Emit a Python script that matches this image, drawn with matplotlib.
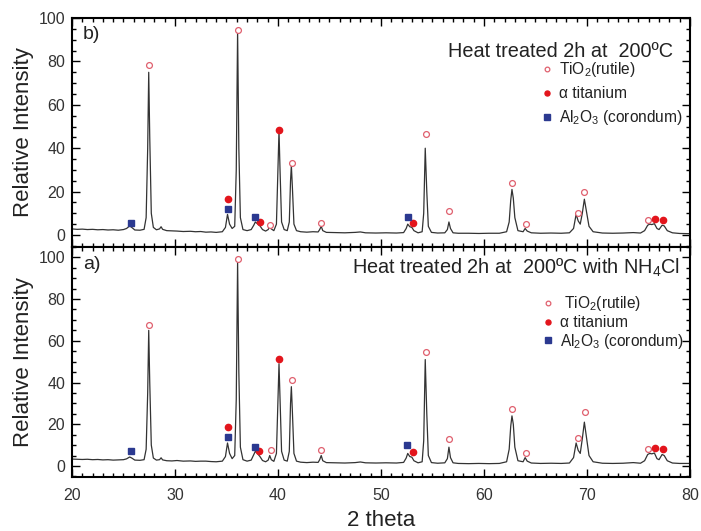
import matplotlib
matplotlib.use("Agg")
import matplotlib.pyplot as plt
from matplotlib.ticker import MultipleLocator

plt.rcParams['font.family'] = ['Liberation Sans', 'DejaVu Sans']
plt.rcParams['mathtext.fontset'] = 'custom'
plt.rcParams['mathtext.rm'] = 'Liberation Sans'
plt.rcParams['mathtext.it'] = 'Liberation Sans:italic'
plt.rcParams['mathtext.default'] = 'rm'

# traced XRD pattern, panel b (no NH4Cl)
b_theta = [20.0, 20.5, 21.0, 21.5, 22.0, 22.5, 23.0, 23.5, 24.0, 24.5, 25.0, 25.3, 25.6, 25.8,
           26.1, 26.6, 27.0, 27.2, 27.35, 27.45, 27.55, 27.7, 27.9, 28.2, 28.5, 28.65, 28.8,
           29.2, 29.7, 30.2, 30.8, 31.5, 32.0, 32.5, 33.0, 33.5, 34.0, 34.6, 34.9, 35.1, 35.3,
           35.55, 35.8, 35.95, 36.08, 36.2, 36.35, 36.6, 37.0, 37.4, 37.65, 37.8, 38.0, 38.25,
           38.5, 38.8, 39.05, 39.2, 39.35, 39.6, 39.85, 40.0, 40.1, 40.2, 40.35, 40.6, 40.9,
           41.1, 41.22, 41.3, 41.4, 41.55, 41.8, 42.2, 42.8, 43.4, 43.9, 44.05, 44.2, 44.35,
           44.7, 45.5, 46.5, 47.5, 48.0, 48.5, 49.5, 50.5, 51.5, 52.2, 52.45, 52.6, 52.8, 53.0,
           53.2, 53.6, 54.0, 54.15, 54.3, 54.45, 54.6, 54.9, 55.5, 56.2, 56.45, 56.6, 56.75,
           57.0, 57.5, 58.5, 59.5, 60.5, 61.5, 62.2, 62.45, 62.6, 62.72, 62.85, 63.0, 63.3,
           63.8, 64.0, 64.2, 64.6, 65.5, 66.5, 67.5, 68.3, 68.7, 68.95, 69.15, 69.35, 69.55,
           69.75, 69.95, 70.2, 70.6, 71.5, 72.5, 73.5, 74.5, 75.2, 75.6, 75.9, 76.1, 76.3,
           76.55, 76.8, 77.0, 77.3, 77.5, 77.8, 78.3, 79.0, 80.0]
b_int = [2.8, 2.6, 2.7, 2.5, 2.6, 2.4, 2.5, 2.3, 2.4, 2.2, 2.5, 3.0, 4.2, 3.5,
         2.3, 2.2, 2.6, 8, 40, 75, 45, 10, 3.5, 2.4, 2.8, 3.8, 2.6,
         2.0, 1.9, 1.8, 1.6, 1.7, 1.5, 1.6, 1.3, 1.4, 1.2, 1.5, 3.5, 9.5, 5,
         3.0, 4, 30, 94, 40, 8, 2.5, 2.0, 2.5, 4.5, 6.0, 5.2, 4.2,
         2.5, 1.8, 2.5, 4.0, 2.8, 2.0, 5, 30, 48, 30, 6, 2.5, 2.0,
         6, 25, 32, 22, 5, 2.0, 1.5, 1.3, 1.5, 1.4, 2.5, 4.0, 2.0,
         1.2, 1.1, 1.0, 1.2, 1.4, 1.0, 0.9, 1.0, 0.9, 1.1, 3.0, 5.0, 3.8, 3.5,
         2.0, 1.0, 1.5, 10, 40, 20, 4, 1.2, 0.9, 1.0, 2.5, 6.0, 3.0,
         1.0, 0.8, 0.8, 0.7, 0.8, 0.8, 1.5, 6, 16, 21, 17, 8, 2.0,
         1.5, 3.0, 1.8, 1.0, 0.8, 0.9, 0.8, 1.0, 3, 9.5, 6.5, 5, 10,
         16.5, 11, 4, 1.5, 0.9, 0.8, 0.9, 1.1, 0.9, 2.0, 4.5, 5.0, 4.8,
         5.2, 3.0, 2.5, 4.5, 4.2, 2.0, 1.0, 0.7, 0.6]

# traced XRD pattern, panel a (with NH4Cl)
a_theta = b_theta
a_int = [3.3, 3.2, 3.1, 3.2, 3.0, 3.1, 2.9, 3.0, 2.8, 2.9, 3.0, 3.4, 4.3, 3.8,
         2.8, 2.7, 3.0, 8, 35, 65, 40, 10, 3.8, 2.8, 3.0, 3.9, 2.9,
         2.5, 2.4, 2.6, 2.3, 2.4, 2.2, 2.3, 2.3, 2.1, 2.0, 2.3, 4.5, 11, 6,
         3.5, 5, 32, 98, 45, 9, 3.0, 2.3, 2.8, 5.5, 7.0, 6.0, 4.5,
         2.6, 2.0, 2.8, 5.0, 3.0, 2.2, 6, 32, 49, 32, 7, 2.8, 2.3,
         7, 30, 38, 26, 6, 2.3, 1.8, 1.6, 1.8, 1.7, 3.0, 5.0, 2.5,
         1.6, 1.5, 1.4, 1.6, 1.9, 1.5, 1.4, 1.5, 1.4, 1.7, 3.8, 6.0, 4.5, 4.2,
         2.5, 1.5, 2.0, 12, 51, 25, 5, 1.6, 1.3, 1.5, 3.5, 9.0, 4.0,
         1.5, 1.2, 1.1, 1.2, 1.1, 1.2, 2.0, 8, 19, 24, 20, 9, 2.5,
         2.0, 4.0, 2.3, 1.4, 1.2, 1.3, 1.2, 1.4, 4, 11, 7.5, 6, 13,
         21, 14, 5, 2.0, 1.3, 1.2, 1.3, 1.6, 1.3, 2.5, 5.5, 6.0, 5.8,
         6.2, 3.5, 3.0, 5.5, 5.0, 2.5, 1.4, 1.2, 1.2]

# phase markers, panel b
b_rut_x = [27.45, 36.1, 39.2, 41.4, 44.2, 54.4, 56.6, 62.7, 64.1, 69.1, 69.75, 75.95]
b_rut_y = [78.5, 94.5, 4.8, 33.0, 5.5, 46.6, 11.1, 24.0, 5.0, 10.3, 19.6, 6.9]
b_ti_x = [35.1, 38.3, 40.1, 53.1, 76.6, 77.35]
b_ti_y = [16.8, 6.2, 48.5, 5.6, 7.3, 6.8]
b_al_x = [25.7, 35.1, 37.8, 52.6]
b_al_y = [5.7, 12.2, 8.3, 8.4]

# phase markers, panel a
a_rut_x = [27.45, 36.1, 39.3, 41.4, 44.2, 54.4, 56.6, 62.7, 64.1, 69.1, 69.8, 75.95]
a_rut_y = [67.5, 99.4, 7.7, 41.3, 7.7, 54.7, 12.9, 27.3, 6.2, 13.4, 25.7, 8.1]
a_ti_x = [35.1, 38.2, 40.1, 53.1, 76.6, 77.4]
a_ti_y = [18.5, 7.2, 51.5, 6.5, 8.6, 8.0]
a_al_x = [25.7, 35.1, 37.8, 52.5]
a_al_y = [7.0, 13.7, 9.2, 10.2]

RUT = '#e0606e'
TI = '#e3151c'
AL = '#2b3990'
INK = '#222222'

fig = plt.figure(figsize=(7.01, 5.31), dpi=100)
ax_b = fig.add_axes([0.1027, 0.535, 0.8815, 0.431])
ax_a = fig.add_axes([0.1027, 0.1017, 0.8815, 0.4333])


def draw(ax, th, inten, rx, ry, tx, ty, qx, qy, rut_label):
    ax.plot(th, inten, color='#333333', lw=0.9)
    ax.plot(rx, ry, ls='none', marker='o', ms=4.2, mfc='white', mec=RUT, mew=0.9,
            label=rut_label)
    ax.plot(tx, ty, ls='none', marker='o', ms=4.5, mfc=TI, mec=TI, label='α titanium')
    ax.plot(qx, qy, ls='none', marker='s', ms=5, mfc=AL, mec=AL,
            label='Al$_2$O$_3$ (corondum)')
    ax.set_xlim(20, 80)
    ax.xaxis.set_major_locator(MultipleLocator(10))
    ax.xaxis.set_minor_locator(MultipleLocator(1))
    ax.yaxis.set_major_locator(MultipleLocator(20))
    ax.yaxis.set_minor_locator(MultipleLocator(5))
    ax.tick_params(which='both', direction='in', top=True, right=True,
                   labelsize=11.5, labelcolor='#333333', width=1.0)
    ax.tick_params(which='major', length=6)
    ax.tick_params(which='minor', length=3)
    ax.tick_params(axis='y', pad=5)
    ax.tick_params(axis='x', pad=8)
    for s in ax.spines.values():
        s.set_linewidth(1.5)
    ax.set_ylabel('Relative Intensity', fontsize=16, color=INK, labelpad=3)


draw(ax_b, b_theta, b_int, b_rut_x, b_rut_y, b_ti_x, b_ti_y, b_al_x, b_al_y,
     'TiO$_2$(rutile)')
ax_b.set_ylim(-5.5, 100)
ax_b.set_yticks([0, 20, 40, 60, 80, 100])
ax_b.tick_params(labelbottom=False)
ax_b.text(0.018, 0.926, 'b)', transform=ax_b.transAxes, fontsize=14, color=INK,
          va='center', ha='left')
ax_b.text(0.972, 0.856, 'Heat treated 2h at  200ºC', transform=ax_b.transAxes,
          fontsize=14.3, color=INK, va='center', ha='right')
ax_b.legend(loc='upper right', bbox_to_anchor=(0.988, 0.815), frameon=False,
            fontsize=11.2, handlelength=0.6, handletextpad=0.45, labelspacing=0.45,
            borderpad=0, borderaxespad=0, markerscale=0.8, labelcolor=INK)

draw(ax_a, a_theta, a_int, a_rut_x, a_rut_y, a_ti_x, a_ti_y, a_al_x, a_al_y,
     ' TiO$_2$(rutile)')
ax_a.set_ylim(-5.3, 105)
ax_a.set_yticks([0, 20, 40, 60, 80, 100])
ax_a.set_xlabel('2 theta', fontsize=16, color=INK, labelpad=5)
ax_a.text(0.018, 0.922, 'a)', transform=ax_a.transAxes, fontsize=14, color=INK,
          va='center', ha='left')
ax_a.text(0.984, 0.909, 'Heat treated 2h at  200ºC with NH$_4$Cl',
          transform=ax_a.transAxes, fontsize=14.3, color=INK, va='center', ha='right')
ax_a.legend(loc='upper right', bbox_to_anchor=(0.99, 0.795), frameon=False,
            fontsize=11.2, handlelength=0.6, handletextpad=0.45, labelspacing=0.12,
            borderpad=0, borderaxespad=0, markerscale=0.8, labelcolor=INK)

fig.savefig('out.png', dpi=100)
